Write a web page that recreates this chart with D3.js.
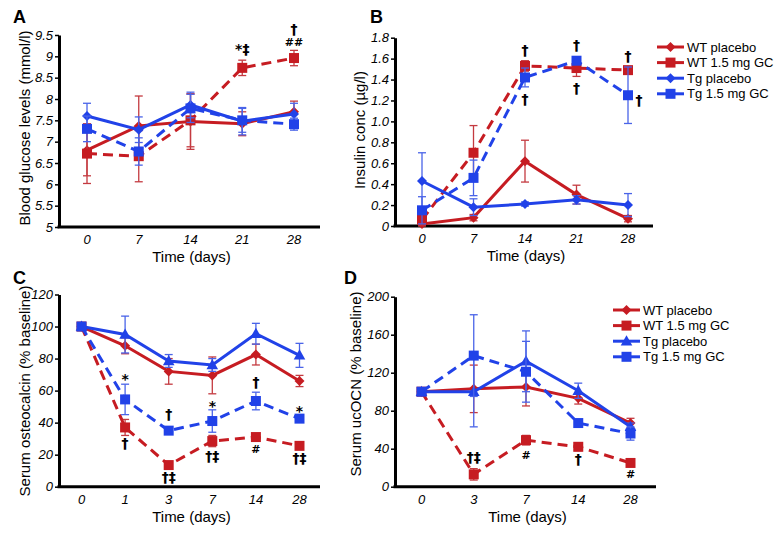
<!DOCTYPE html>
<html><head><meta charset="utf-8">
<script src="https://cdn.jsdelivr.net/npm/d3@7"></script>
<style>
body{margin:0;background:#fff}
svg{display:block}
text{font-family:"Liberation Sans",Arial,sans-serif}
</style>
</head><body>
<svg id="c" width="780" height="534"></svg>
<script>
// ---------- Panel A: blood glucose ----------
const daysA = ["0","7","14","21","28"];
const ticksA = [5,5.5,6,6.5,7,7.5,8,8.5,9,9.5];
const glucoseWTPlacebo = [6.80,7.37,7.47,7.42,7.70];
const glucoseWTPlaceboErr = [0.60,0.70,0.65,0.28,0.25];
const glucoseWTGC = [6.72,6.66,7.50,8.73,8.96];
const glucoseWTGCErr = [0.70,0.60,0.62,0.18,0.18];
const glucoseTgPlacebo = [7.60,7.28,7.86,7.48,7.65];
const glucoseTgPlaceboErr = [0.30,0.30,0.30,0.32,0.25];
const glucoseTgGC = [7.30,6.77,7.78,7.50,7.41];
const glucoseTgGCErr = [0.30,0.32,0.33,0.28,0.14];
const annotA = [["21",9.05,"*‡"],["28",9.25,"##"],["28",9.53,"†"]];

// ---------- Panel B: insulin ----------
const daysB = ["0","7","14","21","28"];
const ticksB = [0,0.2,0.4,0.6,0.8,1.0,1.2,1.4,1.6,1.8];
const tickLabelsB = ["0","0.2","0.4","0.6","0.8","1.0","1.2","1.4","1.6","1.8"];
const insulinWTPlacebo = [0.02,0.08,0.62,0.30,0.07];
const insulinWTPlaceboErr = [0.02,0.03,0.20,0.09,0.03];
const insulinWTGC = [0.06,0.70,1.53,1.51,1.49];
const insulinWTGCErr = [0.05,0.26,0.05,0.08,0.03];
const insulinTgPlacebo = [0.43,0.18,0.21,0.25,0.20];
const insulinTgPlaceboErr = [0.27,0.08,0.02,0.04,0.11];
const insulinTgGC = [0.15,0.46,1.42,1.58,1.25];
const insulinTgGCErr = [0.13,0.17,0.09,0.03,0.27];
const annotB = [["14",1.63,"†"],["14",1.17,"†"],["21",1.68,"†"],["21",1.27,"†"],["28",1.575,"†"],["28",1.157,"†","right"]];

// ---------- Panel C: serum osteocalcin ----------
const daysC = ["0","1","3","7","14","28"];
const ticksC = [0,20,40,60,80,100,120];
const ocWTPlacebo = [100,88,72,69.5,82.5,66];
const ocWTPlaceboErr = [0,5,8,11.5,6.5,3.5];
const ocWTGC = [100,37,13.5,28.5,31,25.5];
const ocWTGCErr = [0,5,2,3.5,2,1.5];
const ocTgPlacebo = [100,95,78.5,76,95.5,82];
const ocTgPlaceboErr = [0,11.5,4,4,6.5,7.5];
const ocTgGC = [100,54.5,35,41,53.5,42.5];
const ocTgGCErr = [0,9.5,2,7,5.5,2];
const annotC = [["1",64,"*"],["1",24.1,"†"],["3",42,"†"],["3",2.9,"†‡"],["7",47.4,"*"],["7",16,"†‡"],
                ["14",62.2,"†"],["14",21.3,"#"],["28",44.2,"*"],["28",15,"†‡"]];

// ---------- Panel D: serum ucOCN ----------
const daysD = ["0","3","7","14","28"];
const ticksD = [0,40,80,120,160,200];
const ucWTPlacebo = [100,103,105,93,67];
const ucWTPlaceboErr = [0,25,20,6,5];
const ucWTGC = [100,13,49,42,25];
const ucWTGCErr = [0,6,5,4,2];
const ucTgPlacebo = [100,100,132,101,63];
const ucTgPlaceboErr = [0,37,32,8,4];
const ucTgGC = [100,138,121,67,56];
const ucTgGCErr = [0,43,32,3,7];
const annotD = [["3",26,"†‡"],["7",29.6,"#"],["14",24.2,"†"],["28",9.2,"#"]];

const legendNames = ["WT placebo","WT 1.5 mg GC","Tg placebo","Tg 1.5 mg GC"];

const RED = "#c61c22", BLUE = "#2142e8";
const RED_ERR = "#c43a40", BLUE_ERR = "#4a64e8";
const svg = d3.select("#c");

function markerPath(shape){
  if(shape==="square") return "M-5,-5H5V5H-5Z";
  if(shape==="diamond") return "M0,-5L5,0L0,5L-5,0Z";
  if(shape==="triangle") return "M0,-6L5.8,4.2H-5.8Z";
  return "";
}

function panel(cfg){
  const g = svg.append("g");
  const x = d3.scalePoint().domain(cfg.days).range(cfg.xr);
  const y = d3.scaleLinear().domain(cfg.yd).range(cfg.yr);

  // y axis
  const ya = d3.axisLeft(y).tickValues(cfg.ticks).tickSize(4).tickSizeOuter(0)
     .tickFormat((d,i)=>cfg.tickLabels ? cfg.tickLabels[i] : String(d));
  const ag = g.append("g").attr("transform",`translate(${cfg.ax},0)`).call(ya);
  ag.select(".domain").attr("stroke","#000").attr("stroke-width",3);
  ag.selectAll(".tick line").attr("stroke","#000").attr("stroke-width",1.5);
  ag.selectAll(".tick text").attr("font-size",13).attr("font-style","italic")
     .attr("fill","#000").attr("x",-6).attr("font-family",'"Liberation Sans",Arial,sans-serif');

  // x axis baseline
  const y0 = y(cfg.yd[0]);
  g.append("line").attr("x1",cfg.ax-1.5).attr("x2",cfg.xEnd).attr("y1",y0).attr("y2",y0)
     .attr("stroke","#000").attr("stroke-width",3);
  g.selectAll(".xl").data(cfg.days).enter().append("text")
     .attr("x",d=>x(d)).attr("y",y0+17).attr("text-anchor","middle")
     .attr("font-size",13).attr("font-style","italic").text(d=>d);
  g.append("text").attr("x",(cfg.ax+cfg.xEnd)/2+2).attr("y",y0+35).attr("text-anchor","middle")
     .attr("font-size",15).text("Time (days)");

  // y title
  g.append("text").attr("transform",`translate(${cfg.titleX},${cfg.titleY}) rotate(-90)`)
     .attr("text-anchor","middle").attr("font-size",15).text(cfg.title);
  // panel letter
  g.append("text").attr("x",cfg.letterX).attr("y",cfg.letterY).attr("font-size",18)
     .attr("font-weight","bold").text(cfg.letter);

  const line = d3.line().x((d,i)=>x(cfg.days[i])).y(d=>y(d));
  cfg.series.forEach(s=>{
    const sg = g.append("g");
    // error bars
    s.vals.forEach((v,i)=>{
      const e = s.err[i];
      if(!e) return;
      const cx = x(cfg.days[i]);
      sg.append("line").attr("x1",cx).attr("x2",cx).attr("y1",y(v-e)).attr("y2",y(v+e))
        .attr("stroke",s.ecol).attr("stroke-width",1.3);
      [v-e,v+e].forEach(w=>{
        sg.append("line").attr("x1",cx-4).attr("x2",cx+4).attr("y1",y(w)).attr("y2",y(w))
          .attr("stroke",s.ecol).attr("stroke-width",1.3);
      });
    });
    sg.append("path").attr("d",line(s.vals)).attr("fill","none").attr("stroke",s.color)
      .attr("stroke-width",3).attr("stroke-dasharray",s.dash?"10,6":null);
    sg.selectAll(".m").data(s.vals).enter().append("path")
      .attr("transform",(d,i)=>`translate(${x(cfg.days[i])},${y(d)})`)
      .attr("d",markerPath(s.shape)).attr("fill",s.color);
  });

  // annotations
  cfg.annot.forEach(a=>{
    const small = a[2].indexOf("#")>=0;
    g.append("text").attr("x",x(a[0]) + (a[3]==="right"?11:0)).attr("y",y(a[1]))
      .attr("text-anchor","middle").attr("font-size",small?11:14).attr("font-weight","bold")
      .attr("fill","#000").style("font-family",'"DejaVu Sans","Liberation Sans",sans-serif')
      .text(a[2]);
  });

  // legend
  if(cfg.legend){
    const L = cfg.legend;
    cfg.series.forEach((s,i)=>{
      const cy = L.y0 + i*L.dy;
      g.append("line").attr("x1",L.x1).attr("x2",L.x2).attr("y1",cy).attr("y2",cy)
        .attr("stroke",s.color).attr("stroke-width",3);
      g.append("path").attr("transform",`translate(${(L.x1+L.x2)/2},${cy})`)
        .attr("d",markerPath(s.shape)).attr("fill",s.color);
      g.append("text").attr("x",L.tx).attr("y",cy+4.5).attr("font-size",13).text(legendNames[i]);
    });
  }
}

function mk(vals,err,color,ecol,dash,shape){return {vals,err,color,ecol,dash,shape};}

panel({days:daysA, xr:[87,294], yd:[5,9.5], yr:[227,35], ticks:ticksA, ax:59, xEnd:320,
  title:"Blood glucose levels (mmol/l)", titleX:30, titleY:128, letter:"A", letterX:13, letterY:23,
  series:[mk(glucoseWTPlacebo,glucoseWTPlaceboErr,RED,RED_ERR,false,"diamond"),
          mk(glucoseWTGC,glucoseWTGCErr,RED,RED_ERR,true,"square"),
          mk(glucoseTgPlacebo,glucoseTgPlaceboErr,BLUE,BLUE_ERR,false,"diamond"),
          mk(glucoseTgGC,glucoseTgGCErr,BLUE,BLUE_ERR,true,"square")],
  annot:annotA});

panel({days:daysB, xr:[422,628], yd:[0,1.8], yr:[226,37.7], ticks:ticksB, tickLabels:tickLabelsB, ax:395, xEnd:653,
  title:"Insulin conc (µg/l)", titleX:365, titleY:130, letter:"B", letterX:370, letterY:23,
  series:[mk(insulinWTPlacebo,insulinWTPlaceboErr,RED,RED_ERR,false,"diamond"),
          mk(insulinWTGC,insulinWTGCErr,RED,RED_ERR,true,"square"),
          mk(insulinTgPlacebo,insulinTgPlaceboErr,BLUE,BLUE_ERR,false,"diamond"),
          mk(insulinTgGC,insulinTgGCErr,BLUE,BLUE_ERR,true,"square")],
  annot:annotB, legend:{x1:657,x2:684,tx:687,y0:47,dy:15.6}});

panel({days:daysC, xr:[81.5,299.5], yd:[0,120], yr:[486.7,294.5], ticks:ticksC, ax:59, xEnd:320,
  title:"Serum osteocalcin (% baseline)", titleX:30, titleY:391, letter:"C", letterX:13, letterY:284,
  series:[mk(ocWTPlacebo,ocWTPlaceboErr,RED,RED_ERR,false,"diamond"),
          mk(ocWTGC,ocWTGCErr,RED,RED_ERR,true,"square"),
          mk(ocTgPlacebo,ocTgPlaceboErr,BLUE,BLUE_ERR,false,"triangle"),
          mk(ocTgGC,ocTgGCErr,BLUE,BLUE_ERR,true,"square")],
  annot:annotC});

panel({days:daysD, xr:[421.5,630.5], yd:[0,200], yr:[486.7,296.7], ticks:ticksD, ax:395, xEnd:656,
  title:"Serum ucOCN (% baseline)", titleX:361, titleY:384, letter:"D", letterX:344, letterY:284,
  series:[mk(ucWTPlacebo,ucWTPlaceboErr,RED,RED_ERR,false,"diamond"),
          mk(ucWTGC,ucWTGCErr,RED,RED_ERR,true,"square"),
          mk(ucTgPlacebo,ucTgPlaceboErr,BLUE,BLUE_ERR,false,"triangle"),
          mk(ucTgGC,ucTgGCErr,BLUE,BLUE_ERR,true,"square")],
  annot:annotD, legend:{x1:613,x2:640,tx:643,y0:310,dy:15.6}});
</script>
</body></html>
